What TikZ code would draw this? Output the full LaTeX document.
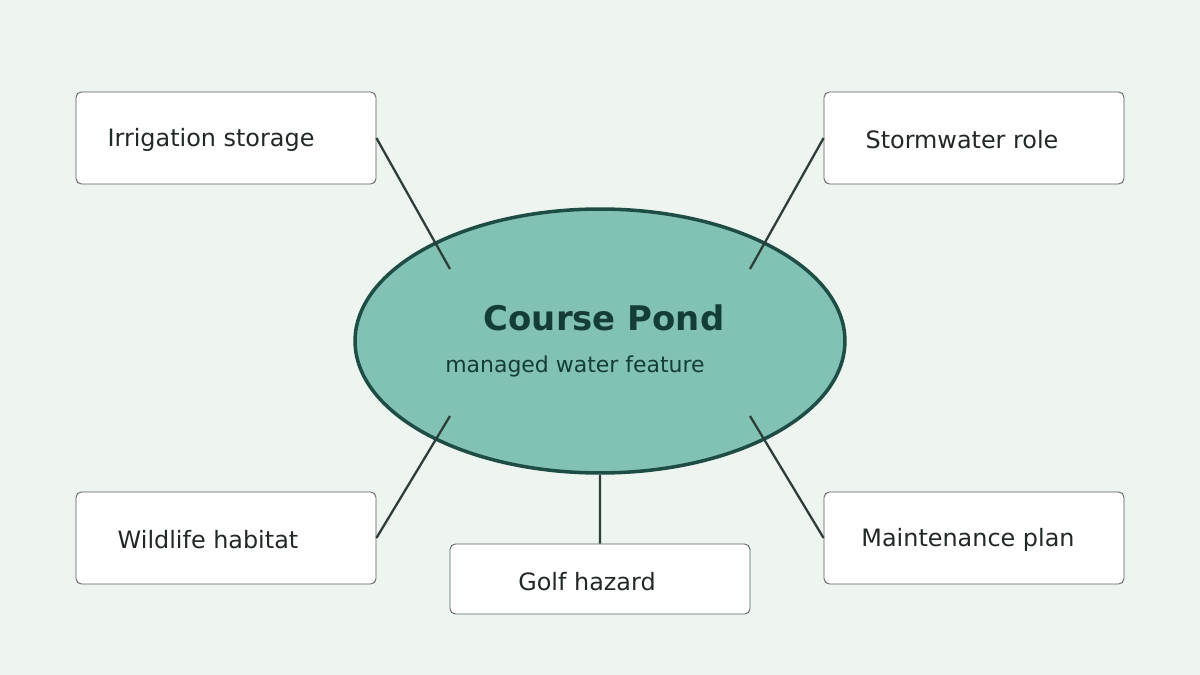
\documentclass[tikz,border=0pt]{standalone}
\usepackage{fontspec}
\setmainfont{DejaVu Sans}
\usetikzlibrary{positioning,shapes.geometric}
\definecolor{bgc}{HTML}{EEF4F0}
\definecolor{pondfill}{HTML}{82C2B4}
\definecolor{pondline}{HTML}{1E4D45}
\definecolor{pondtext}{HTML}{143D38}
\definecolor{linkc}{HTML}{2E3D38}
\definecolor{boxline}{HTML}{5A5F5C}
\definecolor{labelc}{HTML}{222826}

\begin{document}
\begin{tikzpicture}[x=0.02cm,y=-0.02cm,% 1px = 0.02cm, y downwards
			topic/.style={
				rectangle,rounded corners=3pt,draw=boxline,fill=white,
				line width=0.5pt,minimum width=6cm,minimum height=1.84cm
			},
			lbl/.style={text=labelc,font=\fontsize{13.6}{16}\selectfont},
			link/.style={draw=linkc,line width=1.3pt}
		]
		\fill[bgc] (0,0) rectangle (1200,675);
		\useasboundingbox (0,0) rectangle (1200,675);
		% centre
		\node[ellipse,draw=pondline,fill=pondfill,line width=2pt,
			minimum width=9.8cm,minimum height=5.28cm](pond) at (600,341){};
		\node[text=pondtext,font=\fontsize{19.3}{23}\bfseries](title) at (604,318){Course Pond};
		\node[text=pondtext,font=\fontsize{12.5}{15}\selectfont](sub) at (575,366){managed water feature};
		% topics
		\node[topic](irr) at (226,138){};
		\node[topic](storm) at (974,138){};
		\node[topic](wild) at (226,538){};
		\node[topic](maint) at (974,538){};
		\node[topic,minimum height=1.4cm](golf) at (600,579){};
		\node[lbl](irrL) at (211,140){Irrigation storage};
		\node[lbl](stormL) at (962,140){Stormwater role};
		\node[lbl](wildL) at (208,540){Wildlife habitat};
		\node[lbl](maintL) at (968,540){Maintenance plan};
		\node[lbl](golfL) at (587,582){Golf hazard};
		% ends on the pond
		\coordinate (pNW) at (450,269);
		\coordinate (pNE) at (750,269);
		\coordinate (pSW) at (450,416);
		\coordinate (pSE) at (750,416);
		\path[link]
		(irr.east) -- (pNW)
		(storm.west) -- (pNE)
		(wild.east) -- (pSW)
		(maint.west) -- (pSE)
		(pond.south) -- (golf.north)
		;
	\end{tikzpicture}
\end{document}
